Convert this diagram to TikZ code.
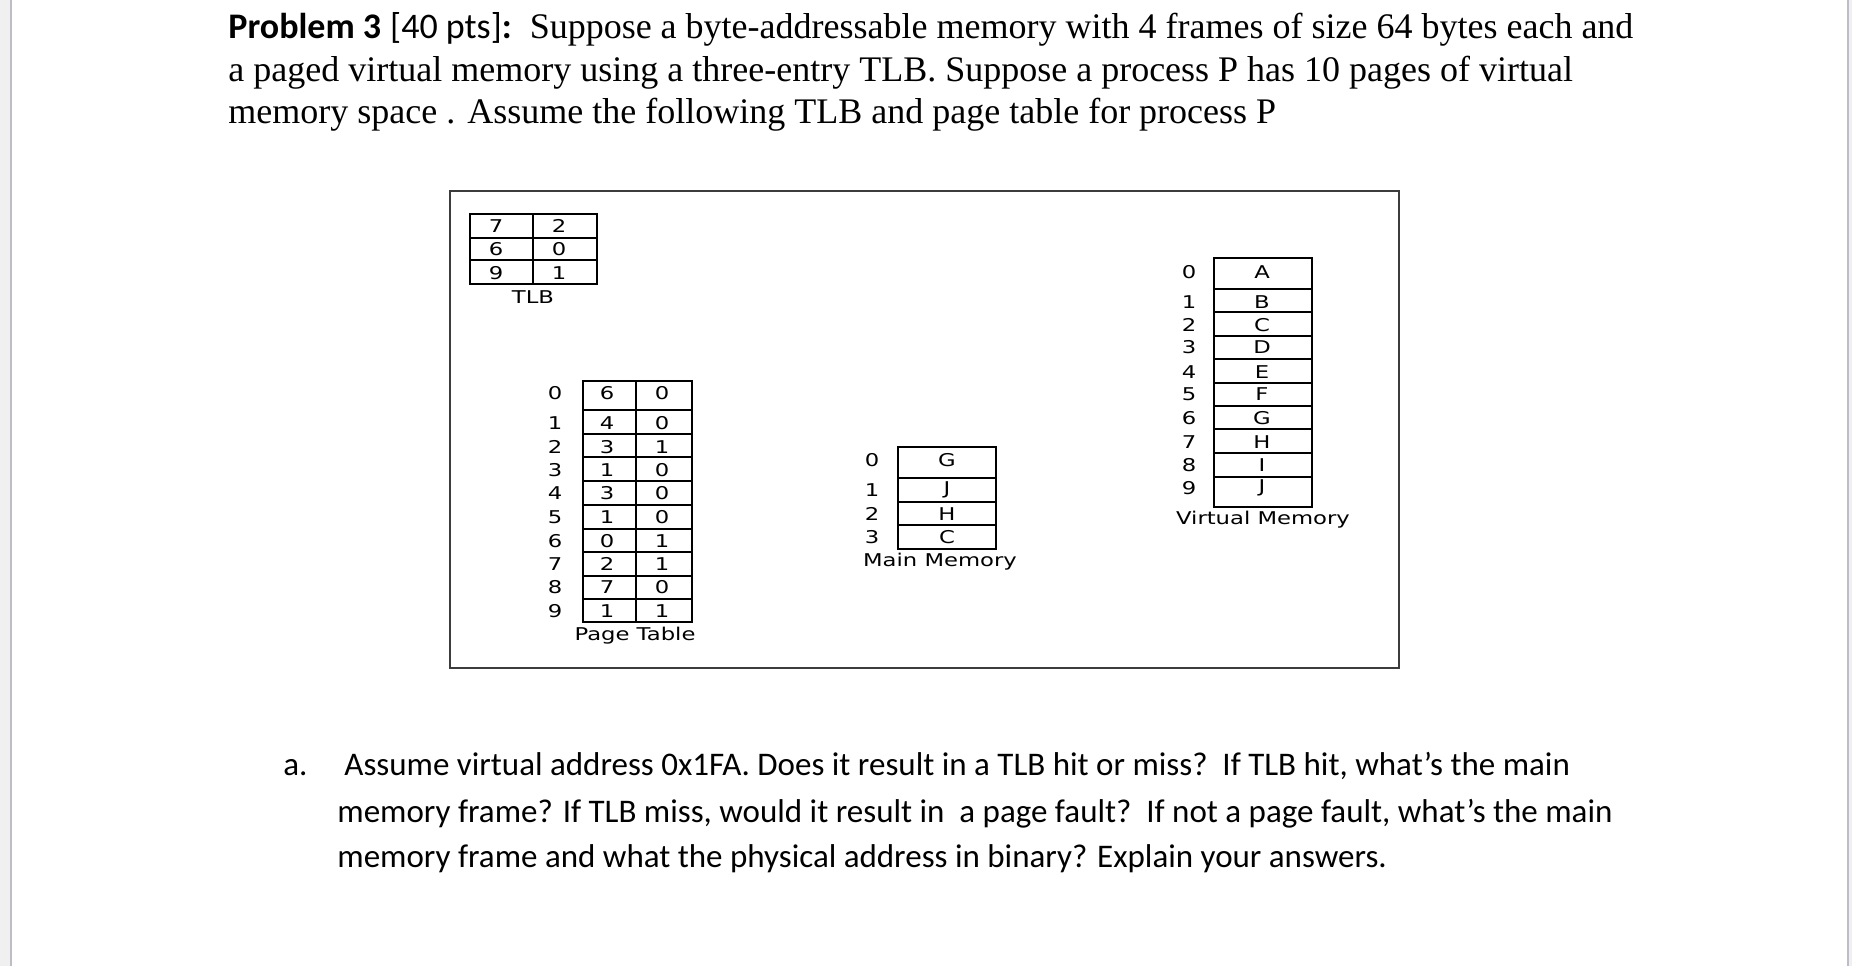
\documentclass[tikz,border=0pt]{standalone}
\usepackage{fontspec}
\usepackage{graphicx}
\setmainfont{Liberation Serif}
\newfontfamily\calfont{Carlito}
\newfontfamily\dvfont{DejaVu Sans}
\newcommand{\wide}[1]{\scalebox{1.29}[1]{#1}}
\definecolor{stripc}{HTML}{F0F0F0}
\definecolor{edgec}{HTML}{BDBDC8}
\definecolor{boxc}{HTML}{3C3C3C}
\begin{document}
\begin{tikzpicture}[x=0.5pt,y=-0.5pt,
  titletext/.style={anchor=base west,inner sep=0pt,font=\fontsize{18pt}{21pt}\selectfont},
  paratext/.style={anchor=base west,inner sep=0pt,font=\calfont\fontsize{16.5pt}{20pt}\selectfont},
  celltext/.style={inner sep=0pt,font=\dvfont\fontsize{8.8pt}{10pt}\selectfont},
  tablelines/.style={draw=black,line width=1pt},
  outerbox/.style={draw=boxc,line width=1.25pt}]
\useasboundingbox (0,0) rectangle (1852,966);
% page background
\fill[stripc] (0,0) rectangle (1852,966);
\fill[white] (12,0) rectangle (1847,966);
\draw[edgec,line width=1pt] (11,0) -- (11,966);
\draw[edgec,line width=1pt] (1848,0) -- (1848,966);

% title
\node[titletext] (l1) at (228,38) {{\calfont\bfseries Problem 3} {\calfont [40 pts]\textbf{:}}\ \ Suppose a byte-addressable memory with 4 frames of size 64 bytes each and};
\node[titletext] (l2) at (228,81) {a paged virtual memory using a three-entry TLB. Suppose a process P has 10 pages of virtual};
\node[titletext] (l3) at (228,123) {memory space . Assume the following TLB and page table for process P};

% outer box
\draw[outerbox] (450,191) rectangle (1399,668);

% TLB
\draw[tablelines] (470,214) rectangle (597,284);
\draw[tablelines] (533,214) -- (533,284);
\draw[tablelines] (470,238) -- (597,238);
\draw[tablelines] (470,260) -- (597,260);
\foreach \y/\a/\b/\n in {226/7/2/1, 249/6/0/2, 273/9/1/3}{
  \node[celltext] (tlba\n) at (496,\y) {\wide{\a}};
  \node[celltext] (tlbb\n) at (559,\y) {\wide{\b}};
}
\node[celltext] (tlblabel) at (533,297) {\wide{TLB}};

% Page table
\draw[tablelines] (583,381) rectangle (692,622);
\draw[tablelines] (636,381) -- (636,622);
\foreach \y in {410,434,457,481,505,529,552,576,599}{
  \draw[tablelines] (583,\y) -- (692,\y);
}
\foreach \y/\a/\b/\n in {393/6/0/0, 423/4/0/1, 447/3/1/2, 470/1/0/3, 493/3/0/4, 517/1/0/5, 541/0/1/6, 564/2/1/7, 587/7/0/8, 611/1/1/9}{
  \node[celltext] (pti\n) at (555,\y) {\wide{\n}};
  \node[celltext] (pta\n) at (607,\y) {\wide{\a}};
  \node[celltext] (ptb\n) at (662,\y) {\wide{\b}};
}
\node[celltext] (ptlabel) at (635,636) {\wide{Page Table}};

% Main memory
\draw[tablelines] (898,447) rectangle (996,549);
\foreach \y in {478,502,525}{
  \draw[tablelines] (898,\y) -- (996,\y);
}
\foreach \y/\c/\n in {460/G/0, 490/J/1, 514/H/2, 537/C/3}{
  \node[celltext] (mmi\n) at (872,\y) {\wide{\n}};
  \node[celltext] (mmc\n) at (947,\y) {\wide{\c}};
}
\node[celltext] (mmlabel) at (940,562) {\wide{Main Memory}};

% Virtual memory
\draw[tablelines] (1214,258) rectangle (1312,507);
\foreach \y in {289,312,336,359,383,406,429,453,477}{
  \draw[tablelines] (1214,\y) -- (1312,\y);
}
\foreach \y/\c/\n in {272/A/0, 302/B/1, 325/C/2, 347/D/3, 372/E/4, 394/F/5, 418/G/6, 442/H/7, 465/I/8, 488/J/9}{
  \node[celltext] (vmi\n) at (1189,\y) {\wide{\n}};
  \node[celltext] (vmc\n) at (1262,\y) {\wide{\c}};
}
\node[celltext] (vmlabel) at (1263,520) {\wide{Virtual Memory}};

% question a
\node[paratext] (qa) at (283,775) {a.};
\node[paratext] (q1) at (344,775) {Assume virtual address 0x1FA. Does it result in a TLB hit or miss?\ \ If TLB hit, what’s the main};
\node[paratext] (q2) at (337,822) {memory frame? If TLB miss, would it result in\ \ a page fault?\ \ If not a page fault, what’s the main};
\node[paratext] (q3) at (337,867) {memory frame and what the physical address in binary? Explain your answers.};
\end{tikzpicture}
\end{document}
